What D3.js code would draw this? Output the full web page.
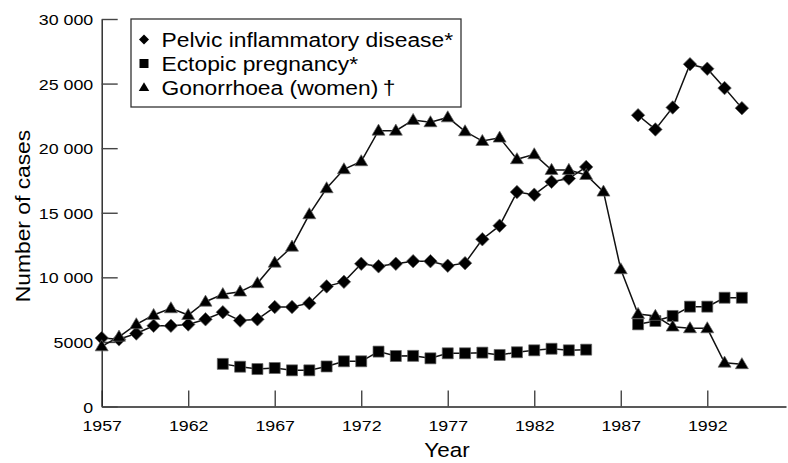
<!DOCTYPE html>
<html>
<head>
<meta charset="utf-8">
<script src="https://cdn.jsdelivr.net/npm/d3@7"></script>
<style>
  html, body { margin: 0; padding: 0; background: #fff; }
  svg { display: block; }
  text { font-family: "Liberation Sans", Arial, Helvetica, sans-serif; fill: #000; }
</style>
</head>
<body>
<svg id="chart" width="788" height="463"></svg>
<script>
// ---- data ----
const years = [1957,1958,1959,1960,1961,1962,1963,1964,1965,1966,1967,1968,1969,1970,
  1971,1972,1973,1974,1975,1976,1977,1978,1979,1980,1981,1982,1983,1984,1985,1986,
  1987,1988,1989,1990,1991,1992,1993,1994];
const pelvic = [5300,5200,5650,6250,6250,6350,6750,7300,6650,6750,7700,7700,8000,9300,
  9650,11050,10850,11050,11250,11250,10900,11100,12950,14000,16600,16400,17400,17650,18550,null,
  null,22550,21450,23150,26500,26150,24650,23100];
const ectopic = [null,null,null,null,null,null,null,3300,3080,2900,2980,2800,2800,3100,
  3500,3500,4250,3910,3920,3730,4120,4120,4170,3990,4200,4350,4470,4350,4400,null,
  null,6360,6620,7010,7730,7730,8420,8420];
const gonorrhoea = [4650,5400,6360,7080,7600,7080,8110,8690,8890,9540,11130,12370,14880,16890,
  18360,18980,21350,21350,22180,22000,22380,21300,20550,20810,19140,19520,18310,18310,17920,16630,
  10620,7160,7010,6180,6050,6050,3390,3270];
const xTicks = [1957,1962,1967,1972,1977,1982,1987,1992];
const yTicks = [0,5000,10000,15000,20000,25000,30000];
const yTickLabels = ["0","5000","10 000","15 000","20 000","25 000","30 000"];
const seriesNames = ["Pelvic inflammatory disease*","Ectopic pregnancy*","Gonorrhoea (women)\u2009\u2020"];
const xTitle = "Year";
const yTitle = "Number of cases";

// ---- layout ----
const SX = 1.15; // horizontal glyph stretch of the original typeface
const svg = d3.select("#chart");
const x = d3.scaleLinear().domain([1957, 1996.55]).range([101.7, 786]);
const y = d3.scaleLinear().domain([0, 30000]).range([406.5, 19]);

// axes
const xAxis = d3.axisBottom(x).tickValues(xTicks).tickFormat(d3.format("d"))
  .tickSizeInner(-16).tickSizeOuter(0).tickPadding(0);
const gx = svg.append("g").attr("transform", `translate(0,${y(0)})`).call(xAxis);
gx.selectAll("text").attr("y", 0).attr("dy", null)
  .attr("transform", `translate(0,24) scale(${SX},1)`)
  .style("font-size", "15.5px").attr("fill", "#000");

const yAxis = d3.axisLeft(y).tickValues(yTicks).tickFormat((d, i) => yTickLabels[i])
  .tickSizeInner(-16).tickSizeOuter(0).tickPadding(0);
const gy = svg.append("g").attr("transform", `translate(${x(1957)},0)`).call(yAxis);
gy.selectAll("text").attr("x", 0).attr("dy", "0.36em")
  .attr("transform", `translate(-8.5,0) scale(${SX},1)`)
  .style("font-size", "15.5px").attr("fill", "#000");

[gx, gy].forEach(g => {
  g.select(".domain").attr("stroke", "#222").attr("stroke-width", 1.4);
  g.selectAll(".tick line").attr("stroke", "#444").attr("stroke-width", 1.4);
});

// titles
svg.append("text").attr("text-anchor", "middle")
  .attr("transform", `translate(447,457) scale(${SX},1)`)
  .style("font-size", "19.5px").text(xTitle);
svg.append("text").attr("text-anchor", "middle")
  .attr("transform", `translate(30,216) rotate(-90) scale(1.17,1)`)
  .style("font-size", "19.5px").text(yTitle);

// marker shapes
const symSize = [13.5, 11, 13];
function markerPath(k, s) {
  if (k === 0) { const h = s / 2; return `M0,${-h}L${h},0L0,${h}L${-h},0Z`; }
  if (k === 1) { const h = s / 2; return `M${-h},${-h}H${h}V${h}H${-h}Z`; }
  const w = s / 2, hh = s * 0.85;
  return `M0,${-hh * 0.6}L${w},${hh * 0.4}L${-w},${hh * 0.4}Z`;
}

const allSeries = [pelvic, ectopic, gonorrhoea];
const line = d3.line()
  .defined(d => d.v !== null)
  .x(d => x(d.year)).y(d => y(d.v));

allSeries.forEach((vals, k) => {
  const data = years.map((yr, i) => ({ year: yr, v: vals[i] }));
  svg.append("path").datum(data)
    .attr("fill", "none").attr("stroke", "#111").attr("stroke-width", 1.5)
    .attr("d", line);
  svg.append("g").selectAll("path").data(data.filter(d => d.v !== null)).join("path")
    .attr("transform", d => `translate(${x(d.year)},${y(d.v)})`)
    .attr("d", markerPath(k, symSize[k]))
    .attr("fill", "#000").attr("stroke", "#666").attr("stroke-width", 0.7);
});

// legend
const leg = svg.append("g");
leg.append("rect").attr("x", 131).attr("y", 19).attr("width", 330).attr("height", 88)
  .attr("fill", "#fff").attr("stroke", "#333").attr("stroke-width", 1.3);
const legSize = [10, 9, 10.5];
seriesNames.forEach((name, k) => {
  const cy = 39.5 + k * 24;
  leg.append("path").attr("transform", `translate(144,${cy})`)
    .attr("d", markerPath(k, legSize[k])).attr("fill", "#000");
  leg.append("text").attr("transform", `translate(161.5,${cy + 7}) scale(1.17,1)`)
    .style("font-size", "19.5px").text(name);
});
</script>
</body>
</html>
